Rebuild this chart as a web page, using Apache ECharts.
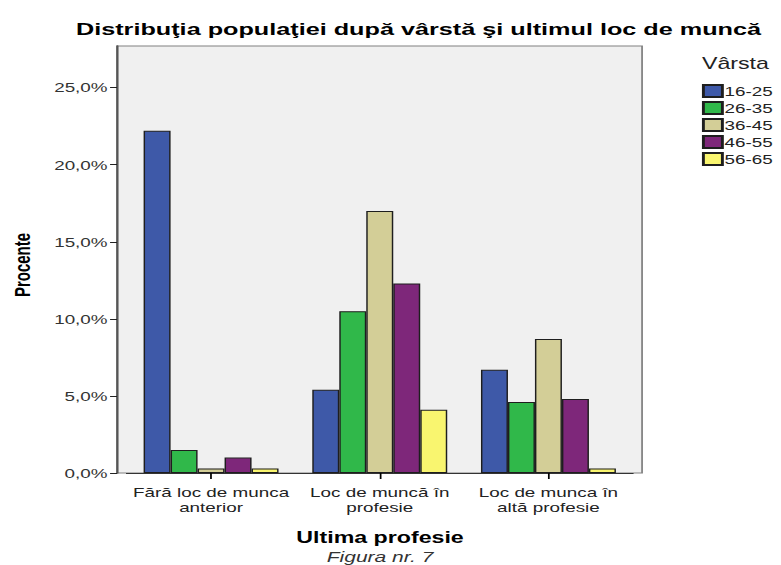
<!DOCTYPE html>
<html>
<head>
<meta charset="utf-8">
<script src="https://cdn.jsdelivr.net/npm/echarts@6/dist/echarts.min.js"></script>
<style>
  html, body { margin: 0; padding: 0; background: #fff; overflow: hidden; }
  /* the source picture is stretched horizontally, so the chart is too */
  #main { width: 538.6px; height: 565px; transform: scaleX(1.45); transform-origin: 0 0; }
</style>
</head>
<body>
<div id="main"></div>
<script>
// categorii (ultima profesie)
var categories = ['Fără loc de munca\nanterior', 'Loc de muncă în\nprofesie', 'Loc de munca în\naltă profesie'];
// grupe de varsta
var ageGroups = ['16-25', '26-35', '36-45', '46-55', '56-65'];
var ageColors = ['#3e59a8', '#30b84a', '#d3ce97', '#7e277a', '#f9f56f'];
// procente pe grupe
var v16_25 = [22.2, 5.4, 6.7];
var v26_35 = [1.5, 10.5, 4.6];
var v36_45 = [0.3, 17.0, 8.7];
var v46_55 = [1.0, 12.3, 4.8];
var v56_65 = [0.3, 4.1, 0.3];
var yTicks = [0, 5, 10, 15, 20, 25];

var values = [v16_25, v26_35, v36_45, v46_55, v56_65];
// ticks under the middle of each category group
var categoryTicks = categories.map(function (c, i) { return i; });
var FONT = 'Liberation Sans, Arial, sans-serif';

var chart = echarts.init(document.getElementById('main'), null, { renderer: 'svg' });

var series = ageGroups.map(function (name, i) {
    return {
        name: name,
        type: 'bar',
        data: values[i],
        barGap: '0%',
        barCategoryGap: '20%',
        itemStyle: {
            color: ageColors[i],
            borderColor: '#1e1e1e',
            borderWidth: 1
        }
    };
});

var option = {
    animation: false,
    backgroundColor: '#fff',
    textStyle: { fontFamily: FONT },
    title: {
        text: 'Distribuţia populaţiei după vârstă şi ultimul loc de muncă',
        left: 52.4,
        top: 20,
        padding: 0,
        textStyle: { fontSize: 17.4, fontWeight: 'bold', color: '#000', fontFamily: FONT }
    },
    legend: {
        orient: 'vertical',
        left: 484.1,
        top: 84,
        padding: 0,
        itemWidth: 13.1,
        itemHeight: 12,
        itemGap: 3,
        icon: 'rect',
        data: ageGroups,
        textStyle: { fontSize: 13, color: '#222', padding: [0, 0, 0, -3.5] }
    },
    grid: {
        left: 87.4,
        right: 102.6,
        top: 46,
        bottom: 92,
        containLabel: false
    },
    graphic: [
        {
            type: 'rect',
            z: -10,
            shape: { x: 80.7, y: 46, width: 362.1, height: 427 },
            style: { fill: '#f0f0f0', stroke: '#808080', lineWidth: 1.2 }
        },
        {
            type: 'text',
            left: 484.1,
            top: 55,
            style: { text: 'Vârsta', fontSize: 16, fill: '#222', fontFamily: FONT }
        },
        {
            type: 'text',
            x: 15.5,
            y: 265,
            rotation: Math.PI / 2,
            style: {
                text: 'Procente', fontSize: 15, fontWeight: 'bold', fill: '#000',
                align: 'center', verticalAlign: 'middle', fontFamily: FONT
            }
        },
        {
            type: 'text',
            x: 262.1,
            y: 537,
            style: {
                text: 'Ultima profesie', fontSize: 16, fontWeight: 'bold', fill: '#000',
                align: 'center', verticalAlign: 'middle', fontFamily: FONT
            }
        },
        {
            type: 'text',
            x: 262.1,
            y: 557,
            style: {
                text: 'Figura nr. 7', fontSize: 14.5, fontStyle: 'italic', fill: '#333',
                align: 'center', verticalAlign: 'middle', fontFamily: FONT
            }
        }
    ],
    xAxis: [
        {
            type: 'category',
            data: categories,
            axisLine: { show: true, onZero: false, lineStyle: { color: '#333', width: 1 } },
            axisTick: { show: false },
            axisLabel: { color: '#222', fontSize: 13, lineHeight: 15, margin: 12, interval: 0, hideOverlap: false }
        },
        {
            // only used to draw the tick under each group
            type: 'value',
            position: 'bottom',
            min: -0.5,
            max: categories.length - 0.5,
            splitLine: { show: false },
            axisLine: { show: true, onZero: false, lineStyle: { color: '#333', width: 1 } },
            axisLabel: { show: false },
            axisTick: { show: true, length: 6, customValues: categoryTicks, lineStyle: { color: '#000', width: 1.2 } }
        }
    ],
    yAxis: {
        type: 'value',
        min: 0,
        max: 27.7,
        interval: 5,
        offset: 6.7,
        splitLine: { show: false },
        axisLine: { show: true, onZero: false, lineStyle: { color: '#555', width: 1.5 } },
        axisTick: { show: true, length: 4.8, customValues: yTicks, lineStyle: { color: '#222' } },
        axisLabel: {
            color: '#333', fontSize: 13, margin: 6.5,
            customValues: yTicks,
            formatter: function (v) { return v.toFixed(1).replace('.', ',') + '%'; }
        }
    },
    series: series
};

chart.setOption(option);
</script>
</body>
</html>
